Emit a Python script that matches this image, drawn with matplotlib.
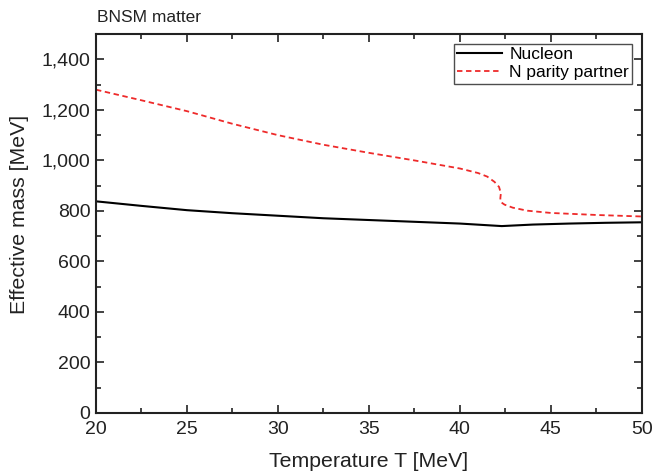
import matplotlib
matplotlib.use("Agg")
import matplotlib.pyplot as plt
from matplotlib.ticker import MultipleLocator, FuncFormatter

plt.rcParams["font.family"] = ["Liberation Sans", "DejaVu Sans"]

# Nucleon effective mass vs temperature
t_nucleon = [20, 22.5, 25, 27.5, 30, 32.5, 35, 37.5, 40, 42.3, 44, 46, 48, 50]
m_nucleon = [838, 820, 803, 791, 781, 771, 764, 757, 750, 740, 746, 750, 753, 755]

# N parity partner effective mass vs temperature
t_partner = [20, 22.5, 25, 27.5, 30, 32.5, 35, 37.5, 40, 41.0, 41.5, 41.9, 42.15,
             42.25, 42.22, 42.25, 42.45, 42.9, 43.7, 45, 47.5, 50]
m_partner = [1280, 1238, 1195, 1145, 1100, 1062, 1030, 1000, 968, 950, 936, 915, 895,
             870, 850, 835, 825, 813, 801, 792, 784, 778]

fig = plt.figure(figsize=(6.53, 4.74), dpi=100)
ax = fig.add_axes([0.147, 0.1287, 0.836, 0.7993])

ax.plot(t_nucleon, m_nucleon, color="black", lw=1.5, label="Nucleon")
ax.plot(t_partner, m_partner, color="#ee2a2a", lw=1.3, ls=(0, (3, 2)),
        label="N parity partner")

ax.set_xlim(20, 50)
ax.set_ylim(0, 1500)
ax.xaxis.set_major_locator(MultipleLocator(5))
ax.xaxis.set_minor_locator(MultipleLocator(2.5))
ax.yaxis.set_major_locator(MultipleLocator(200))
ax.yaxis.set_minor_locator(MultipleLocator(100))
ax.yaxis.set_major_formatter(FuncFormatter(lambda v, p: f"{v:,.0f}"))

ax.tick_params(which="both", direction="in", top=True, right=True,
               labelsize=14, colors="#222222", width=1.2)
ax.tick_params(which="major", length=6)
ax.tick_params(which="minor", length=3.5)
ax.tick_params(axis="x", which="major", pad=6)
ax.tick_params(axis="y", which="major", pad=4)
for s in ax.spines.values():
    s.set_linewidth(1.5)
    s.set_color("#222222")

ax.set_xlabel("Temperature T [MeV]", fontsize=15.3, color="#222222")
ax.set_ylabel("Effective mass [MeV]", fontsize=15.3, color="#222222")
ax.xaxis.set_label_coords(0.5, -0.102)
ax.yaxis.set_label_coords(-0.123, 0.525)

leg = ax.legend(loc="upper right", fontsize=12.5, frameon=True, fancybox=False,
                borderpad=0.2, labelspacing=0.15, handlelength=2.6,
                handletextpad=0.4, borderaxespad=0.55)
leg.get_frame().set_edgecolor("#222222")
leg.get_frame().set_linewidth(1.0)

fig.text(0.148, 0.963, "BNSM matter", fontsize=12.5, color="#222222",
         ha="left", va="center")

fig.savefig("out.png", dpi=100)
